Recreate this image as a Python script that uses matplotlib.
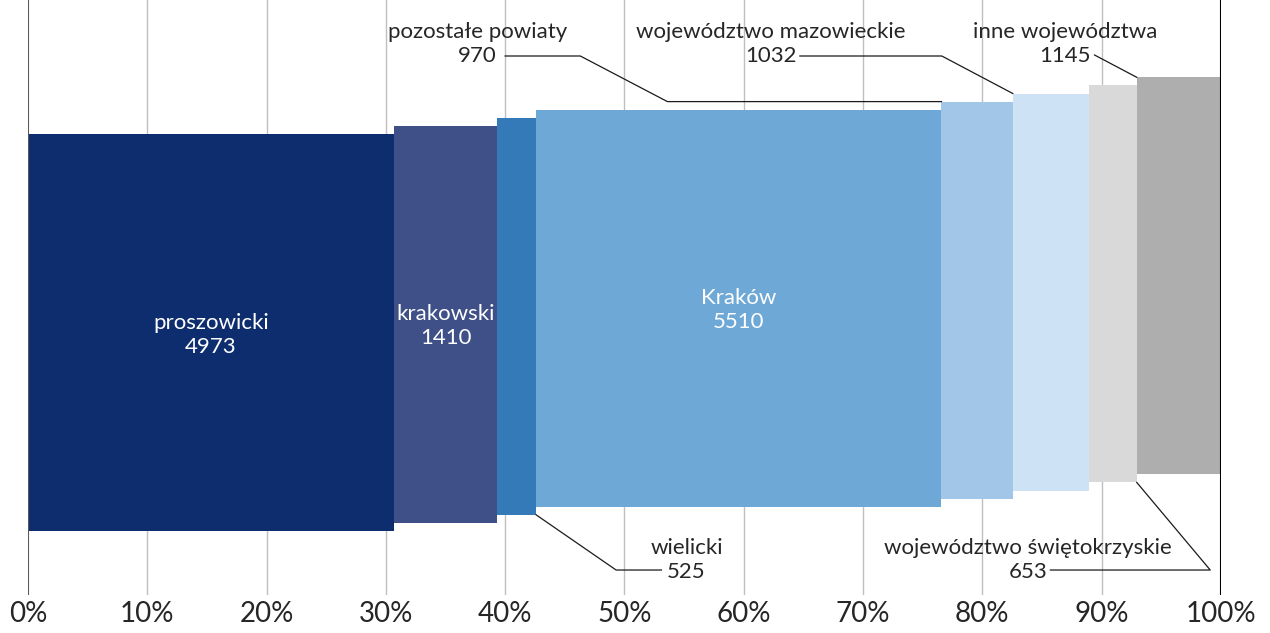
import matplotlib.pyplot as plt
import numpy as np

# data
names = ['proszowicki', 'krakowski', 'wielicki', 'Kraków', 'pozostałe powiaty',
         'województwo mazowieckie', 'województwo świętokrzyskie', 'inne województwa']
values = [4973, 1410, 525, 5510, 970, 1032, 653, 1145]
colors = ['#0e2d6e', '#3f4f87', '#347ab9', '#6ea8d6', '#a2c6e8', '#cde2f5', '#d9d9d9', '#aeaeae']
tick_labels = ['0%', '10%', '20%', '30%', '40%', '50%', '60%', '70%', '80%', '90%', '100%']

plt.rcParams['font.family'] = ['Lato', 'DejaVu Sans']

vals = np.array(values, dtype=float)
widths = vals / vals.sum() * 100
lefts = np.concatenate([[0], np.cumsum(widths)[:-1]])
rights = lefts + widths

base, step, h = 64, 8.1, 397
bottoms = base + step * np.arange(len(vals))
tops = bottoms + h

fig = plt.figure(figsize=(12.7, 6.33), dpi=100)
ax = fig.add_axes([0.022, 0.06, 0.9394, 0.94])
ax.set_xlim(0, 100)
ax.set_ylim(0, 595)

for x in range(10, 100, 10):
    ax.axvline(x, color='#bfbfbf', lw=1, zorder=0)
ax.axvline(0, color='#595959', lw=1.5, zorder=3)
ax.axvline(100, color='#000000', lw=1.5, zorder=3)

ax.bar(lefts, h, width=widths, bottom=bottoms, align='edge', color=colors, zorder=2, linewidth=0)

# labels inside bars
for i in (0, 1, 3):
    ax.text(lefts[i] + widths[i] / 2, bottoms[i] + h / 2 - 2, f'{names[i]}\n{values[i]}',
            ha='center', va='center', color='white', fontsize=16, linespacing=1.25, zorder=4)

# outside labels with leader lines
txt_kw = dict(ha='center', va='center', color='#262626', fontsize=16, linespacing=1.25)
line_kw = dict(color='#1a1a1a', lw=0.9, zorder=4)

# pozostałe powiaty
ax.text(37.7, 551, f'{names[4]}\n{values[4]}', **txt_kw)
ax.plot([40.0, 46.3, 53.6, lefts[4]], [539, 539, tops[4], tops[4]], **line_kw)

# województwo mazowieckie
ax.text(62.3, 551, f'{names[5]}\n{values[5]}', **txt_kw)
ax.plot([64.7, 76.6, lefts[5]], [539, 539, tops[5]], **line_kw)

# inne województwa
ax.text(86.9, 551, f'{names[7]}\n{values[7]}', **txt_kw)
ax.plot([89.4, lefts[7]], [540, tops[7]], **line_kw)

# wielicki
ax.text(55.2, 35, f'{names[2]}\n{values[2]}', **txt_kw)
ax.plot([rights[2], 49.3, 53.1], [bottoms[2], 25, 25], **line_kw)

# województwo świętokrzyskie
ax.text(83.8, 35, f'{names[6]}\n{values[6]}', **txt_kw)
ax.plot([rights[6], 99.1, 85.7], [bottoms[6], 25, 25], **line_kw)

ax.set_xticks(np.arange(0, 101, 10))
ax.set_xticklabels(tick_labels, fontsize=20, color='#262626')
ax.tick_params(axis='x', length=0, pad=4)
ax.set_yticks([])
for s in ax.spines.values():
    s.set_visible(False)

fig.savefig('out.png', dpi=100)
